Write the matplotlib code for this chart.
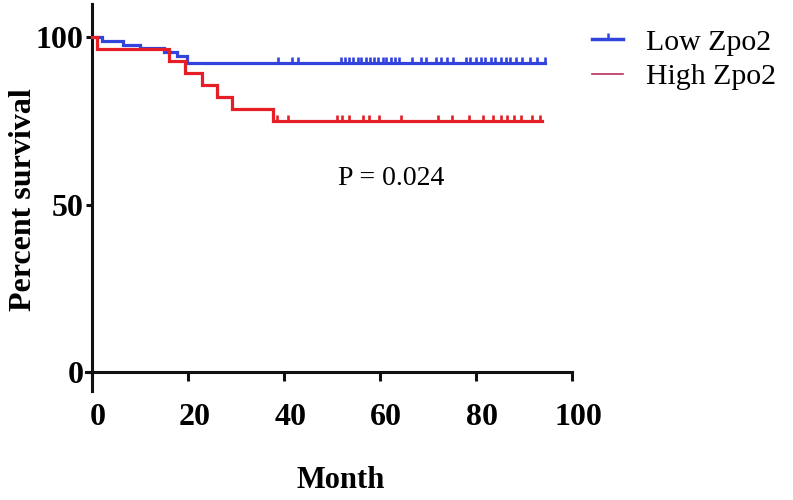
import numpy as np
import matplotlib
matplotlib.use("Agg")
import matplotlib.pyplot as plt
from matplotlib.path import Path
from matplotlib.lines import Line2D
import matplotlib.transforms as mtransforms

# ---------------- data ----------------
low_event_times = [0, 2.1, 6.5, 10.0, 14.9, 17.7, 19.8]
low_survival = [100, 98.8, 97.7, 96.6, 95.5, 94.3, 92.1]
low_end_time = 94.4
low_censor_times = [38.8, 41.7, 42.8, 51.8, 52.7, 53.5, 54.4, 55.3, 56.1, 57.0,
                    57.8, 58.7, 59.6, 60.5, 61.3, 62.2, 63.1, 64.0, 66.6, 68.5,
                    69.5, 71.6, 72.6, 74.0, 75.1, 77.8, 78.8, 79.9, 80.9, 81.9,
                    83.0, 84.0, 85.1, 86.1, 87.1, 88.2, 89.6, 91.3, 92.7, 94.4]

high_event_times = [0, 1.0, 16.0, 19.4, 22.8, 25.9, 29.2, 37.6]
high_survival = [100, 96.4, 92.9, 89.3, 85.7, 82.1, 78.6, 75.0]
high_end_time = 93.8
high_censor_times = [38.6, 40.8, 51.0, 52.0, 53.6, 56.5, 57.6, 59.8, 64.3, 72.0,
                     75.0, 78.5, 81.5, 83.4, 85.1, 86.5, 87.9, 89.3, 91.7, 93.3]

series_labels = ["Low Zpo2", "High Zpo2"]
x_ticks = [0, 20, 40, 60, 80, 100]
y_ticks = [0, 50, 100]
x_label = "Month"
y_label = "Percent survival"
p_text = "P = 0.024"

# ---------------- style ----------------
BLUE = "#3344dd"
RED = "#e61e25"
SERIF = "Liberation Serif"

fig = plt.figure(figsize=(7.93, 5.0), dpi=100)
ax = fig.add_axes([0.109, 0.219, 0.6126, 0.774])

tick_marker = Path([(0, 0), (0, 1)], [Path.MOVETO, Path.LINETO])


def draw_km(times, surv, end, censors, color, z):
    t = np.array(list(times) + [end])
    s = np.array(list(surv) + [surv[-1]])
    ax.step(t, s, where="post", color=color, lw=2.3, zorder=z,
            solid_joinstyle="miter")
    c = np.array(censors)
    idx = np.searchsorted(np.array(times), c, side="right") - 1
    cs = np.array(surv)[idx]
    ax.plot(c, cs, linestyle="none", marker=tick_marker, markersize=8.5,
            markeredgewidth=1.9, color=color, zorder=z)


draw_km(low_event_times, low_survival, low_end_time, low_censor_times, BLUE, 3)
draw_km(high_event_times, high_survival, high_end_time, high_censor_times, RED, 4)

ax.set_xlim(-1.2, 100)
ax.set_ylim(-5.5, 110)
ax.spines["top"].set_visible(False)
ax.spines["right"].set_visible(False)
ax.spines["bottom"].set_position(("data", 0))
ax.spines["left"].set_position(("data", 0))
for sp in ("bottom", "left"):
    ax.spines[sp].set_linewidth(2.2)
    ax.spines[sp].set_color("#111111")

ax.set_xticks(x_ticks)
ax.set_yticks(y_ticks)
ax.tick_params(axis="x", length=6.5, width=2.2, pad=16, color="#111111")
ax.tick_params(axis="y", length=4.5, width=2.2, pad=1.5, color="#111111")
for lab in ax.get_xticklabels() + ax.get_yticklabels():
    lab.set_fontfamily(SERIF)
    lab.set_fontweight("bold")
    lab.set_fontsize(23)
off = mtransforms.ScaledTranslation(6 / 100, 0, fig.dpi_scale_trans)
for lab in ax.get_xticklabels():
    lab.set_transform(lab.get_transform() + off)

ax.set_xlabel(x_label, fontfamily=SERIF, fontweight="bold", fontsize=22)
ax.set_ylabel(y_label, fontfamily=SERIF, fontweight="bold", fontsize=23)
ax.xaxis.set_label_coords(0.524, -0.195)
ax.yaxis.set_label_coords(-0.10, 0.492)

ax.text(62.3, 57.9, p_text, fontfamily=SERIF, fontsize=20,
        ha="center", va="center")

handles = [
    Line2D([], [], color=BLUE, lw=2.5, marker=tick_marker, markersize=8,
           markeredgewidth=1.8),
    Line2D([], [], color="#b8305a", lw=1.2),
]
fig.legend(handles, series_labels, loc="upper left",
           bbox_to_anchor=(592 / 793, 1 - 29 / 500), frameon=False,
           prop={"family": SERIF, "size": 21.5}, handlelength=1.05,
           handletextpad=0.75, labelspacing=0.25, borderpad=0,
           borderaxespad=0, numpoints=1)

fig.savefig("out.png", dpi=100)
